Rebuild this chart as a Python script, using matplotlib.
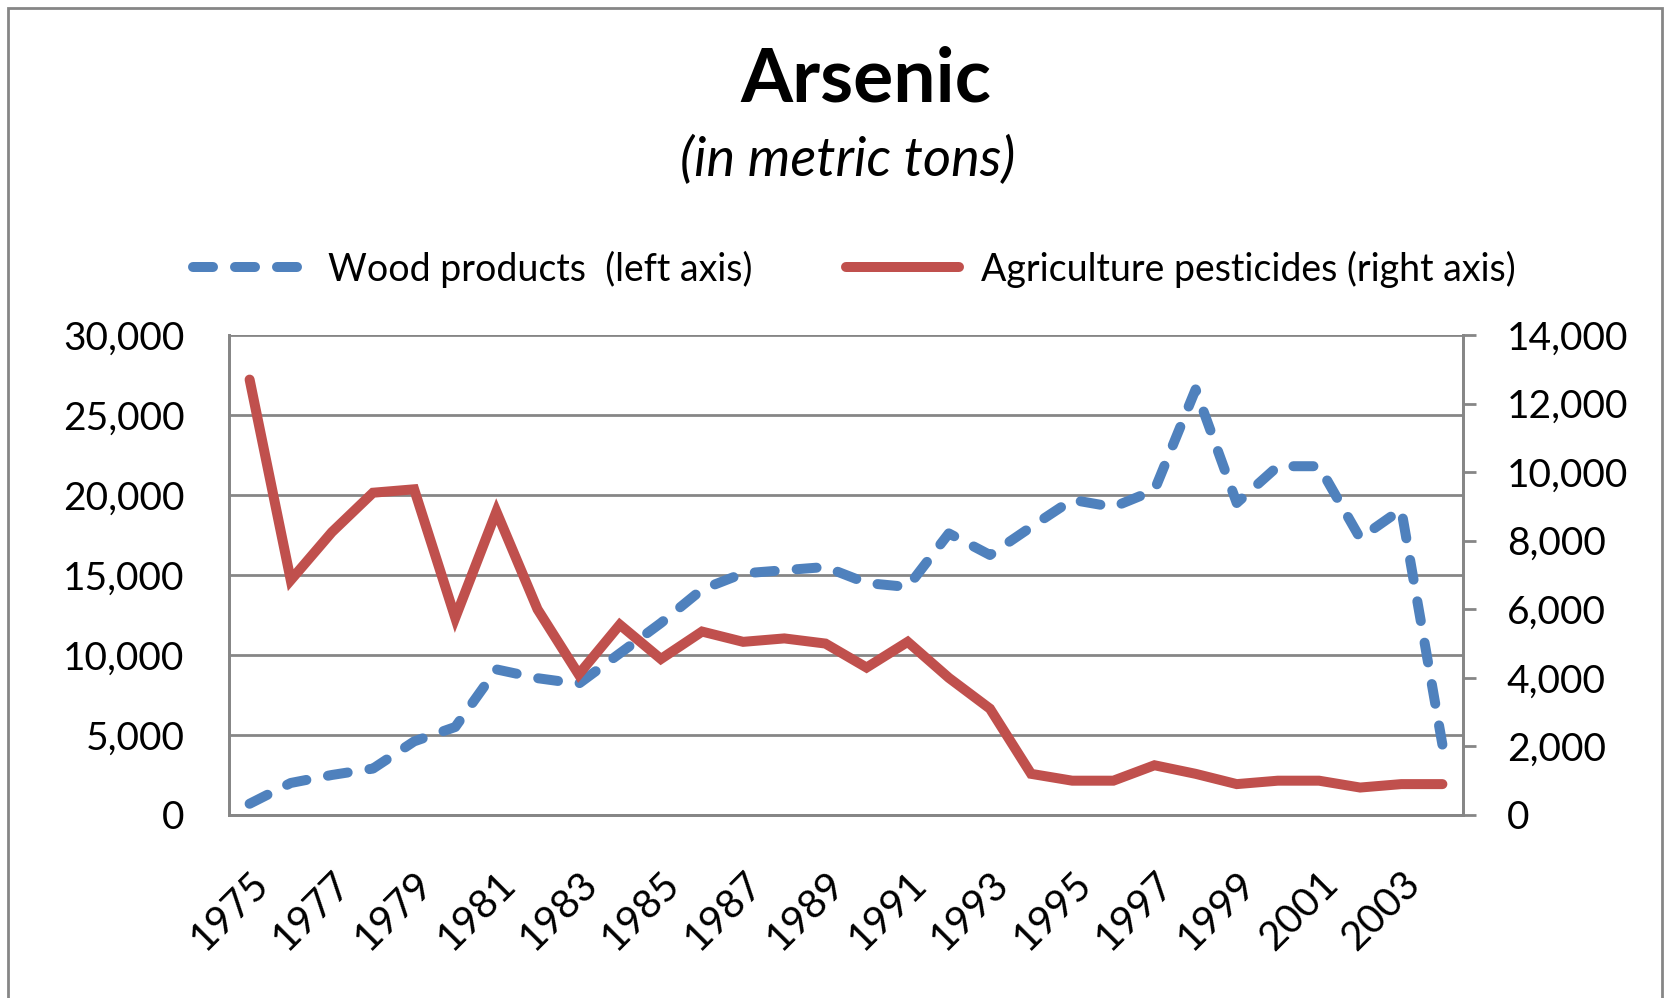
import matplotlib.pyplot as plt
import matplotlib.patches as patches

# arsenic use, metric tons
years = list(range(1975, 2005))
wood = [700, 2000, 2500, 2900, 4600, 5500, 9100, 8550, 8200, 10100,
        12000, 14100, 15100, 15300, 15500, 14500, 14250, 17600, 16250, 18000,
        19700, 19250, 20300, 26600, 19500, 21800, 21800, 17300, 19100, 4400]
pest = [12700, 6850, 8250, 9400, 9500, 5750, 8850, 6000, 4100, 5550,
        4550, 5350, 5050, 5150, 5000, 4300, 5050, 4000, 3100, 1200,
        1000, 1000, 1450, 1200, 900, 1000, 1000, 800, 900, 900]
left_ticks = list(range(0, 30001, 5000))
right_ticks = list(range(0, 14001, 2000))

plt.rcParams['font.family'] = ['Lato', 'DejaVu Sans']
gray = '#868686'

fig = plt.figure(figsize=(16.67, 9.98), dpi=100)
ax = fig.add_axes([0.1374, 0.1834, 0.7402, 0.4809])
ax2 = ax.twinx()

l1, = ax.plot(years, wood, color='#4F81BD', lw=7.2, dashes=(2.0, 2.2),
              dash_capstyle='round', solid_capstyle='round',
              label='Wood products  (left axis)')
l2, = ax2.plot(years, pest, color='#C0504D', lw=7.2, solid_joinstyle='miter',
               solid_capstyle='round', label='Agriculture pesticides (right axis)')

ax.set_xlim(1974.5, 2004.5)
ax.set_ylim(0, 30000)
ax2.set_ylim(0, 14000)
ax.set_yticks(left_ticks)
ax.set_yticklabels([f'{v:,}' for v in left_ticks])
ax2.set_yticks(right_ticks)
ax2.set_yticklabels([f'{v:,}' for v in right_ticks])
ax.set_xticks(years[::2])
ax.set_xticklabels([str(y) for y in years[::2]], rotation=45, ha='right',
                   rotation_mode='anchor')

ax.grid(axis='y', color=gray, lw=2)
ax.set_axisbelow(True)
ax.tick_params(axis='y', length=0, labelsize=28, pad=32)
ax.tick_params(axis='x', length=0, labelsize=29, pad=36)
ax2.tick_params(axis='y', direction='out', length=9.5, width=2, color=gray,
                labelsize=28, pad=22)

for a in (ax, ax2):
    for s in a.spines.values():
        s.set_color(gray)
        s.set_linewidth(2)
    a.spines['top'].set_visible(False)

fig.text(0.5195, 0.8978, 'Arsenic', fontsize=54, fontweight='bold',
         ha='center', va='baseline')
fig.text(0.5087, 0.8236, '(in metric tons)', fontsize=39, style='italic',
         ha='center', va='baseline')

ax.legend([l1, l2], [l1.get_label(), l2.get_label()], ncol=2, frameon=False,
          loc='center', bbox_to_anchor=(0.5125, 0.7305),
          bbox_transform=fig.transFigure, fontsize=27, handlelength=3.0,
          handletextpad=0.6, columnspacing=2.5)

# outer chart border
fig.patches.append(patches.Rectangle((0.0048, -0.05), 0.9922, 1.042,
                                     transform=fig.transFigure, fill=False,
                                     edgecolor=gray, lw=2))

fig.savefig('out.png', dpi=100)
